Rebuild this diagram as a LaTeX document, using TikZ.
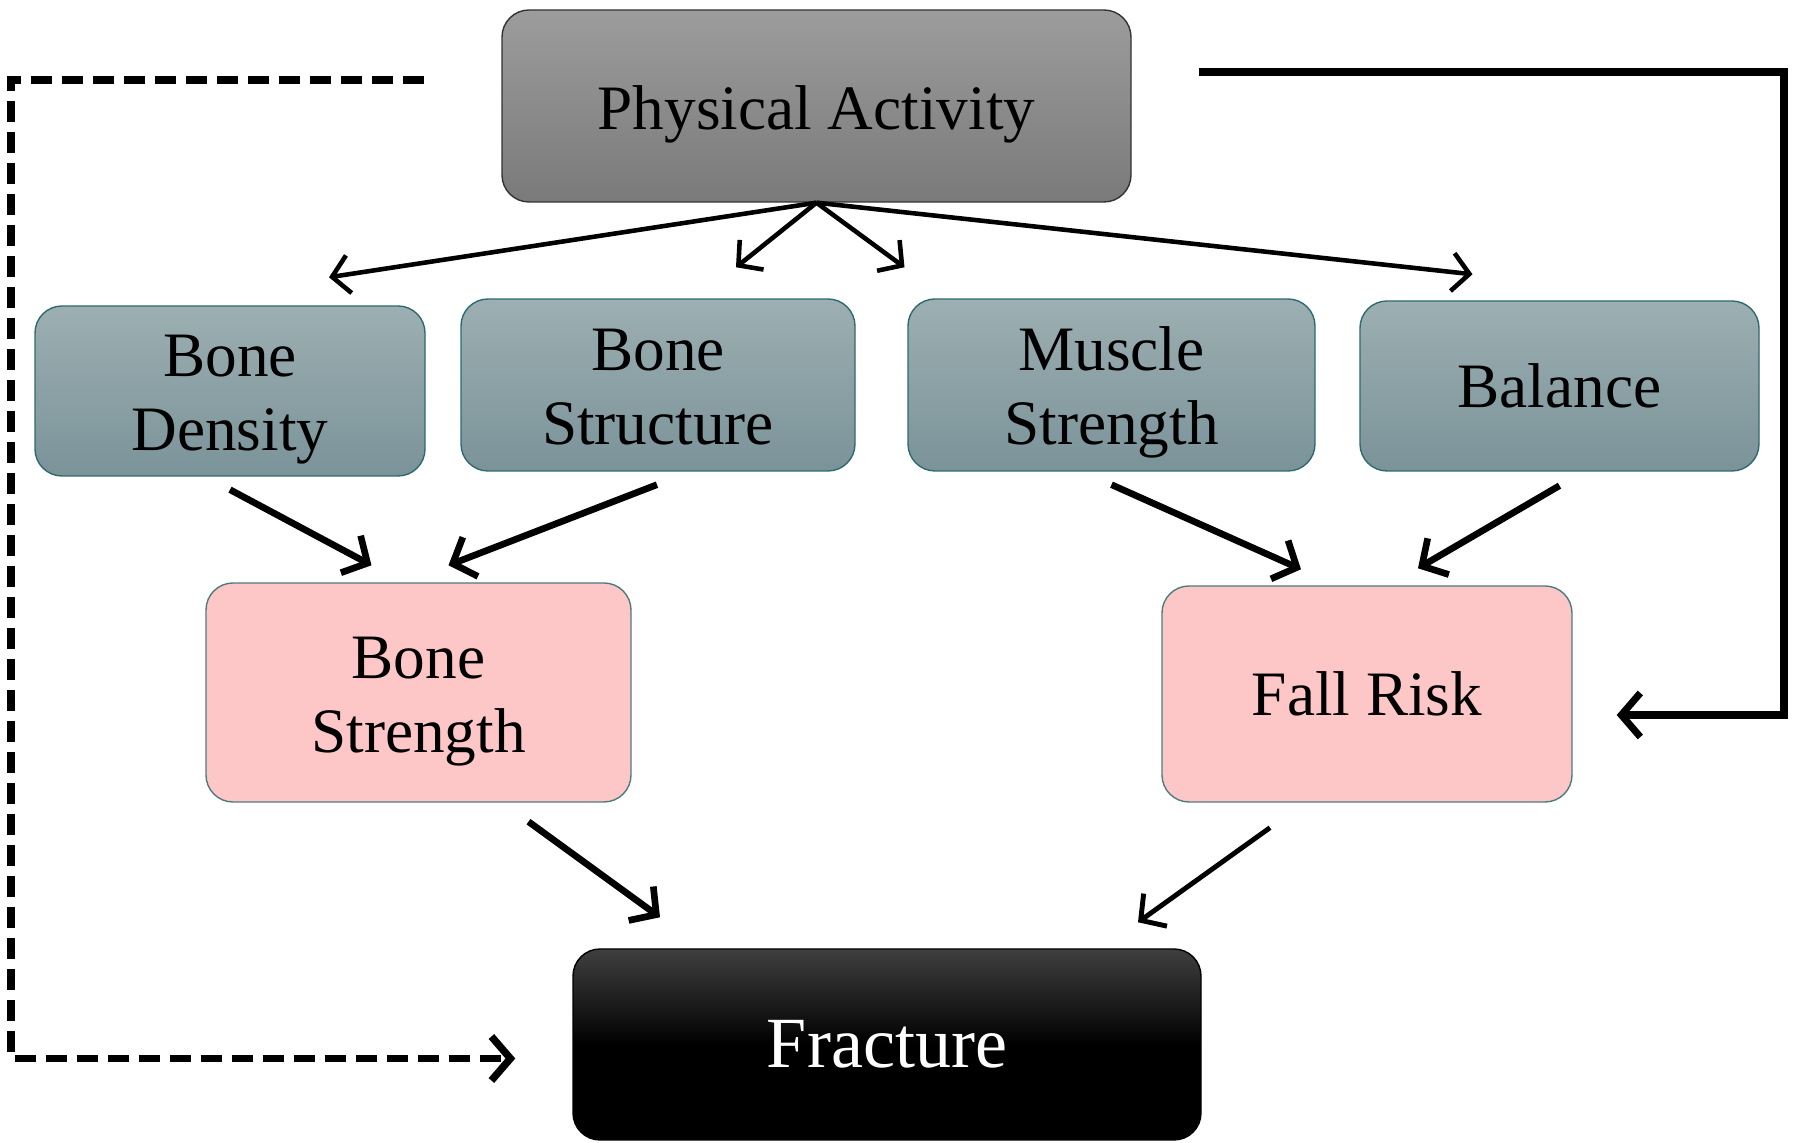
\documentclass[tikz,border=0pt]{standalone}
\usepackage{fontspec}
\setmainfont{Liberation Serif}
\usetikzlibrary{calc,arrows.meta}
\definecolor{paTop}{HTML}{9C9C9C}
\definecolor{paBot}{HTML}{7A7A7A}
\definecolor{tealTop}{HTML}{9DAFB2}
\definecolor{tealBot}{HTML}{7A9399}
\definecolor{tealEdge}{HTML}{2E6B6E}
\definecolor{pinkFill}{HTML}{FDC6C7}
\definecolor{pinkEdge}{HTML}{4E7C7E}
\begin{document}
\begin{tikzpicture}[
    box/.style={rounded corners=0.27cm, align=center, inner sep=0pt,
      font=\fontsize{18}{21}\selectfont},
    two lines/.style={text height=38pt, text depth=4pt},
    factor/.style={box, draw=tealEdge, top color=tealTop, bottom color=tealBot},
    outcome/.style={box, draw=pinkEdge, fill=pinkFill},
    thin arr/.style={line width=1.3pt, -{Straight Barb[length=1.7mm,width=3.8mm]}},
    thick arr/.style={line width=1.9pt, -{Straight Barb[length=1.9mm,width=4.2mm]}}
  ]
    \useasboundingbox (0, 0) rectangle (17.97, 11.43);

    \node[box, draw=black!80, top color=paTop, bottom color=paBot,
      minimum width=6.29cm, minimum height=1.92cm, text height=17.3pt,
      text depth=3.9pt] (pa) at (8.165, 10.37) {Physical Activity};

    \node[factor, two lines, minimum width=3.90cm, minimum height=1.70cm]
      (density) at (2.30, 7.52) {Bone\\Density};
    \node[factor, two lines, minimum width=3.94cm, minimum height=1.72cm]
      (structure) at (6.58, 7.58) {Bone\\Structure};
    \node[factor, two lines, minimum width=4.07cm, minimum height=1.72cm]
      (muscle) at (11.115, 7.58) {Muscle\\Strength};
    \node[factor, minimum width=3.99cm, minimum height=1.70cm] (balance)
      at (15.595, 7.57) {Balance};

    \node[outcome, two lines, minimum width=4.25cm, minimum height=2.19cm]
      (strength) at (4.185, 4.505) {Bone\\Strength};
    \node[outcome, minimum width=4.10cm, minimum height=2.16cm] (fall)
      at (13.67, 4.49) {Fall Risk};

    \node[box, draw=black, top color=black!75, bottom color=black,
      middle color=black, text=white, minimum width=6.28cm,
      minimum height=1.91cm, font=\fontsize{20.5}{24}\selectfont] (fracture)
      at (8.87, 0.985) {Fracture};

    % from physical activity
    \draw[thin arr] (pa.south) -- ($ (density.north) + (0.99, 0.28) $);
    \draw[thin arr] (pa.south) -- ($ (structure.north) + (0.78, 0.31) $);
    \draw[thin arr] (pa.south) -- ($ (muscle.north) + (-2.07, 0.31) $);
    \draw[thin arr] (pa.south) -- ($ (balance.north) + (-0.87, 0.26) $);

    % into bone strength and fall risk
    \draw[thick arr] ($ (density.south) + (0, -0.13) $) --
      ($ (strength.north) + (-0.47, 0.17) $);
    \draw[thick arr] ($ (structure.south) + (-0.01, -0.13) $) --
      ($ (strength.north) + (0.30, 0.17) $);
    \draw[thick arr] ($ (muscle.south) + (0, -0.13) $) --
      ($ (fall.north) + (-0.66, 0.16) $);
    \draw[thick arr] ($ (balance.south) + (0, -0.14) $) --
      ($ (fall.north) + (0.51, 0.17) $);

    % into fracture
    \draw[thick arr] ($ (strength.south) + (1.10, -0.19) $) --
      ($ (fracture.north) + (-2.27, 0.31) $);
    \draw[line width=1.4pt, -{Straight Barb[length=1.8mm,width=4mm]}]
      ($ (fall.south) + (-0.97, -0.25) $) --
      ($ (fracture.north) + (2.51, 0.26) $);

    % direct paths
    \coordinate (r1) at (11.99, 10.71);
    \coordinate (r2) at (17.84, 10.71);
    \draw[line width=2pt, -{Straight Barb[length=1.9mm,width=4.4mm]}]
      (r1) -- (r2) |- ($ (fall.east) + (0.44, -0.21) $);
    \coordinate (d1) at (4.24, 10.63);
    \coordinate (d2) at (0.11, 10.63);
    \draw[line width=2.1pt, dash pattern=on 0.21cm off 0.1cm,
      -{Straight Barb[length=1.9mm,width=4.4mm]}]
      (d1) -- (d2) |- ($ (fracture.west) + (-0.57, -0.14) $);
\end{tikzpicture}
\end{document}
